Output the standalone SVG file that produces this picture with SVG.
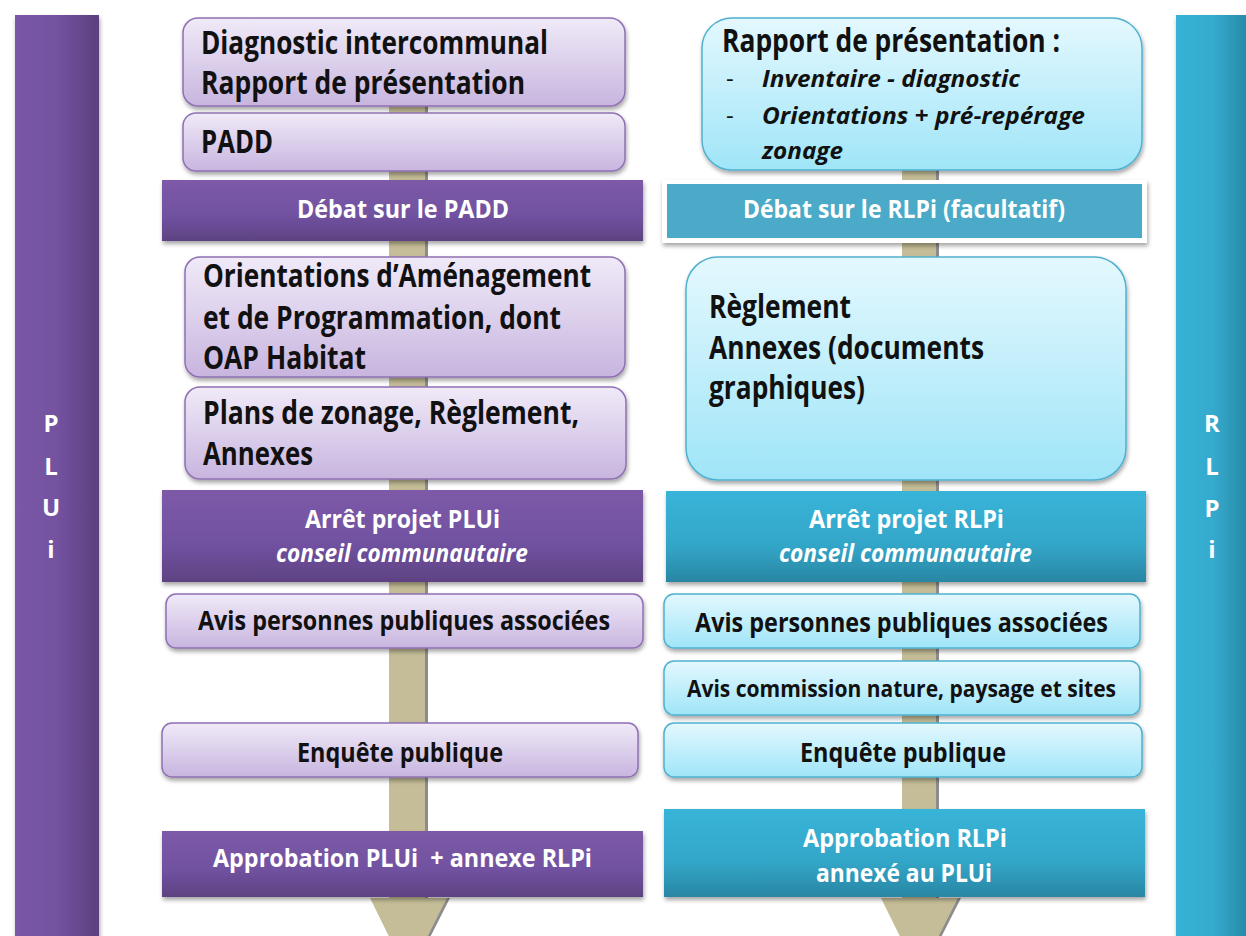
<svg xmlns="http://www.w3.org/2000/svg" width="1246" height="936" viewBox="0 0 1246 936">
<style>
text{font-family:"Open Sans","Liberation Sans",sans-serif;font-weight:bold;}
.dk{fill:#111;font-size:32px;}
.md{fill:#111;font-size:27px;}
.sm{fill:#111;font-size:24px;}
.it{font-style:italic;}
.dash{font-weight:normal;}
.wt{fill:#fff;font-size:25px;}
.side{fill:#fff;font-size:24px;text-anchor:middle;}
.lp{fill:url(#gLP);stroke:#8f70b3;stroke-width:1.5;filter:url(#sh);}
.lb{fill:url(#gLB);stroke:#4fb1cf;stroke-width:1.5;filter:url(#sh);}
.dp{fill:url(#gDP);filter:url(#sh);}
.tb{fill:url(#gTB);filter:url(#sh);}
.shaft{fill:#c4bd97;}
.shd{fill:#8c8c8c;}
</style>
<defs>
<linearGradient id="gLP" x1="0" y1="0" x2="0" y2="1"><stop offset="0" stop-color="#f0eaf8"/><stop offset="1" stop-color="#c8b5df"/></linearGradient>
<linearGradient id="gLB" x1="0" y1="0" x2="0" y2="1"><stop offset="0" stop-color="#e4f8fe"/><stop offset="1" stop-color="#9fe5f8"/></linearGradient>
<linearGradient id="gDP" x1="0" y1="0" x2="0" y2="1"><stop offset="0" stop-color="#7d5aa8"/><stop offset="0.6" stop-color="#7051a0"/><stop offset="1" stop-color="#5e4282"/></linearGradient>
<linearGradient id="gTB" x1="0" y1="0" x2="0" y2="1"><stop offset="0" stop-color="#38b4d9"/><stop offset="0.6" stop-color="#33a6c8"/><stop offset="1" stop-color="#2986a3"/></linearGradient>
<linearGradient id="gBarL" x1="0" y1="0" x2="1" y2="0"><stop offset="0" stop-color="#7b58a7"/><stop offset="0.5" stop-color="#7352a0"/><stop offset="1" stop-color="#5c3f7e"/></linearGradient>
<linearGradient id="gBarR" x1="0" y1="0" x2="1" y2="0"><stop offset="0" stop-color="#37b2d7"/><stop offset="0.5" stop-color="#34aacd"/><stop offset="1" stop-color="#2786a3"/></linearGradient>
<filter id="sh" x="-5%" y="-10%" width="110%" height="130%"><feDropShadow dx="1" dy="3" stdDeviation="2" flood-color="#000" flood-opacity="0.35"/></filter>
</defs>
<rect width="1246" height="936" fill="#fff"/>

<g id="bar-plui">
<rect x="15" y="15" width="84" height="930" fill="url(#gBarL)" filter="url(#sh)"/>
<text class="side" x="51" y="432">P</text>
<text class="side" x="51" y="475">L</text>
<text class="side" x="51" y="516">U</text>
<text class="side" x="51" y="558">i</text>
</g>
<g id="bar-rlpi">
<rect x="1176" y="15" width="75" height="930" fill="url(#gBarR)" filter="url(#sh)"/>
<text class="side" x="1212" y="432">R</text>
<text class="side" x="1212" y="475">L</text>
<text class="side" x="1212" y="517">P</text>
<text class="side" x="1212" y="558">i</text>
</g>

<g id="connectors">
<polygon class="shd" points="392,100 428,100 428,898 450,898 411,975 411,975"/>
<polygon class="shaft" points="389,100 425,100 425,898 447,898 408,975 370,898 389,898"/>
<polygon class="shd" points="905,160 939,160 939,898 961,898 922,975"/>
<polygon class="shaft" points="902,160 936,160 936,898 958,898 919,975 881,898 902,898"/>
</g>

<g id="n-diagnostic">
<rect class="lp" x="183" y="18" width="442" height="88" rx="15"/>
<text class="dk" x="201" y="54" textLength="347" lengthAdjust="spacingAndGlyphs">Diagnostic intercommunal</text>
<text class="dk" x="201" y="94" textLength="324" lengthAdjust="spacingAndGlyphs">Rapport de présentation</text>
</g>
<g id="n-padd">
<rect class="lp" x="183" y="113" width="442" height="58" rx="13"/>
<text class="dk" x="201" y="153" textLength="72" lengthAdjust="spacingAndGlyphs">PADD</text>
</g>
<g id="n-debat-padd">
<rect class="dp" x="162" y="180" width="481" height="61"/>
<text class="wt" x="297" y="218" textLength="212" lengthAdjust="spacingAndGlyphs">Débat sur le PADD</text>
</g>
<g id="n-oap">
<rect class="lp" x="185" y="257" width="440" height="120" rx="15"/>
<text class="dk" x="203" y="287" textLength="388" lengthAdjust="spacingAndGlyphs">Orientations d’Aménagement</text>
<text class="dk" x="203" y="329" textLength="358" lengthAdjust="spacingAndGlyphs">et de Programmation, dont</text>
<text class="dk" x="203" y="369" textLength="163" lengthAdjust="spacingAndGlyphs">OAP Habitat</text>
</g>
<g id="n-zonage">
<rect class="lp" x="185" y="387" width="441" height="92" rx="15"/>
<text class="dk" x="203" y="424" textLength="376" lengthAdjust="spacingAndGlyphs">Plans de zonage, Règlement,</text>
<text class="dk" x="203" y="465" textLength="110" lengthAdjust="spacingAndGlyphs">Annexes</text>
</g>
<g id="n-arret-plui">
<rect class="dp" x="162" y="490" width="481" height="92"/>
<text class="wt" x="305" y="528" textLength="195" lengthAdjust="spacingAndGlyphs">Arrêt projet PLUi</text>
<text class="wt it" x="276" y="562" textLength="252" lengthAdjust="spacingAndGlyphs">conseil communautaire</text>
</g>
<g id="n-ppa-plui">
<rect class="lp" x="166" y="594" width="477" height="54" rx="10"/>
<text class="md" x="198" y="630" textLength="412" lengthAdjust="spacingAndGlyphs">Avis personnes publiques associées</text>
</g>
<g id="n-enquete-plui">
<rect class="lp" x="162" y="723" width="476" height="54" rx="10"/>
<text class="md" x="297" y="762" textLength="206" lengthAdjust="spacingAndGlyphs">Enquête publique</text>
</g>
<g id="n-approbation-plui">
<rect class="dp" x="162" y="831" width="481" height="66"/>
<text class="wt" x="213" y="867" textLength="379" lengthAdjust="spacingAndGlyphs" xml:space="preserve">Approbation PLUi  + annexe RLPi</text>
</g>

<g id="n-rapport-rlpi">
<rect class="lb" x="702" y="18" width="440" height="152" rx="30"/>
<text class="dk" x="722" y="52" textLength="338" lengthAdjust="spacingAndGlyphs">Rapport de présentation :</text>
<text class="sm dash" x="726" y="87">-</text>
<text class="sm it" x="762" y="87" textLength="258" lengthAdjust="spacingAndGlyphs">Inventaire - diagnostic</text>
<text class="sm dash" x="726" y="124">-</text>
<text class="sm it" x="762" y="124" textLength="323" lengthAdjust="spacingAndGlyphs">Orientations + pré-repérage</text>
<text class="sm it" x="762" y="159" textLength="81" lengthAdjust="spacingAndGlyphs">zonage</text>
</g>
<g id="n-debat-rlpi">
<rect x="662" y="180" width="485" height="63" fill="#fff" filter="url(#sh)"/>
<rect x="667" y="184" width="475" height="54" fill="#4aaac7"/>
<text class="wt" x="743" y="218" textLength="322" lengthAdjust="spacingAndGlyphs">Débat sur le RLPi (facultatif)</text>
</g>
<g id="n-reglement-rlpi">
<rect class="lb" x="686" y="257" width="440" height="223" rx="32"/>
<text class="dk" x="709" y="318" textLength="142" lengthAdjust="spacingAndGlyphs">Règlement</text>
<text class="dk" x="709" y="359" textLength="275" lengthAdjust="spacingAndGlyphs">Annexes (documents</text>
<text class="dk" x="709" y="399" textLength="156" lengthAdjust="spacingAndGlyphs">graphiques)</text>
</g>
<g id="n-arret-rlpi">
<rect class="tb" x="666" y="491" width="480" height="91"/>
<text class="wt" x="809" y="528" textLength="195" lengthAdjust="spacingAndGlyphs">Arrêt projet RLPi</text>
<text class="wt it" x="779" y="562" textLength="253" lengthAdjust="spacingAndGlyphs">conseil communautaire</text>
</g>
<g id="n-ppa-rlpi">
<rect class="lb" x="664" y="594" width="476" height="54" rx="10"/>
<text class="md" x="695" y="632" textLength="413" lengthAdjust="spacingAndGlyphs">Avis personnes publiques associées</text>
</g>
<g id="n-commission-rlpi">
<rect class="lb" x="664" y="661" width="476" height="54" rx="10"/>
<text class="sm" x="687" y="697" textLength="429" lengthAdjust="spacingAndGlyphs">Avis commission nature, paysage et sites</text>
</g>
<g id="n-enquete-rlpi">
<rect class="lb" x="664" y="723" width="478" height="54" rx="10"/>
<text class="md" x="800" y="762" textLength="206" lengthAdjust="spacingAndGlyphs">Enquête publique</text>
</g>
<g id="n-approbation-rlpi">
<rect class="tb" x="664" y="809" width="481" height="88"/>
<text class="wt" x="803" y="847" textLength="204" lengthAdjust="spacingAndGlyphs">Approbation RLPi</text>
<text class="wt" x="816" y="882" textLength="176" lengthAdjust="spacingAndGlyphs">annexé au PLUi</text>
</g>
</svg>
